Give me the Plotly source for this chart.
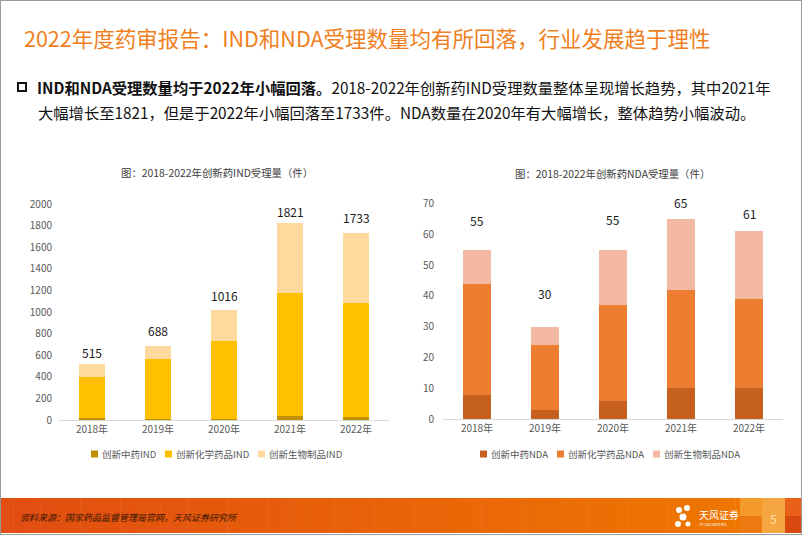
import plotly.graph_objects as go

# ---------------- data ----------------
years = ["2018年", "2019年", "2020年", "2021年", "2022年"]

ind_tcm = [22, 6, 6, 37, 31]
ind_chem = [375, 556, 725, 1136, 1049]
ind_bio = [118, 126, 285, 648, 653]
ind_total = [515, 688, 1016, 1821, 1733]

nda_tcm = [8, 3, 6, 10, 10]
nda_chem = [36, 21, 31, 32, 29]
nda_bio = [11, 6, 18, 23, 22]
nda_total = [55, 30, 55, 65, 61]

ind_names = ["创新中药IND", "创新化学药品IND", "创新生物制品IND"]
nda_names = ["创新中药NDA", "创新化学药品NDA", "创新生物制品NDA"]

ind_ticks = list(range(0, 2001, 200))
nda_ticks = list(range(0, 71, 10))

# ---------------- styles ----------------
W, H = 802, 535
FONT = "Noto Sans CJK SC"
ind_colors = ["#BF9000", "#FFC000", "#FFDA9E"]
nda_colors = ["#C5601E", "#ED7D31", "#F4B9A2"]
ind_label_shift = [12, 15, 15, 12, 15]   # px offset of total labels above bars
nda_label_shift = [29, 33, 30, 16, 18]
ind_leg_x = [91, 165, 258]     # legend swatch left edges (px)
nda_leg_x = [480, 557, 653]
LEG_Y = 454


def px(x):
    return x / W


def py(y):
    return 1 - y / H


fig = go.Figure()

for vals, name, col in zip([ind_tcm, ind_chem, ind_bio], ind_names, ind_colors):
    fig.add_trace(go.Bar(x=years, y=vals, name=name, marker_color=col,
                         marker_line_width=0, xaxis="x", yaxis="y",
                         showlegend=False, hoverinfo="skip"))
for vals, name, col in zip([nda_tcm, nda_chem, nda_bio], nda_names, nda_colors):
    fig.add_trace(go.Bar(x=years, y=vals, name=name, marker_color=col,
                         marker_line_width=0, xaxis="x2", yaxis="y2",
                         showlegend=False, hoverinfo="skip"))

annotations = []
shapes = []
for yr, t, s in zip(years, ind_total, ind_label_shift):
    annotations.append(dict(x=yr, y=t, xref="x", yref="y", text=str(t),
                            showarrow=False, yshift=s, yanchor="middle",
                            font=dict(family=FONT, size=12, color="#1a1a1a")))
for yr, t, s in zip(years, nda_total, nda_label_shift):
    annotations.append(dict(x=yr, y=t, xref="x2", yref="y2", text=str(t),
                            showarrow=False, yshift=s, yanchor="middle",
                            font=dict(family=FONT, size=12, color="#1a1a1a")))

# legends (swatch + label)
legfont = dict(family=FONT, size=9.5, color="#595959")
for names, cols, xs in [(ind_names, ind_colors, ind_leg_x), (nda_names, nda_colors, nda_leg_x)]:
    for name, col, x0 in zip(names, cols, xs):
        shapes.append(dict(type="rect", xref="paper", yref="paper",
                           x0=px(x0), x1=px(x0 + 7), y0=py(LEG_Y + 3.5), y1=py(LEG_Y - 3.5),
                           line_width=0, fillcolor=col))
        annotations.append(dict(x=px(x0 + 9), y=py(LEG_Y), xref="paper", yref="paper",
                                xanchor="left", yanchor="middle", text=name, showarrow=False,
                                font=legfont))

# headline & bullet text
annotations += [
    dict(x=px(22), y=py(38), xref="paper", yref="paper", xanchor="left", yanchor="middle",
         text="2022年度药审报告：IND和NDA受理数量均有所回落，行业发展趋于理性",
         showarrow=False, font=dict(family=FONT, size=21.5, color="#F07F22")),
    dict(x=px(35), y=py(87), xref="paper", yref="paper", xanchor="left", yanchor="middle",
         text="<b>IND和NDA受理数量均于2022年小幅回落。</b>2018-2022年创新药IND受理数量整体呈现增长趋势，其中2021年",
         showarrow=False, font=dict(family=FONT, size=15.3, color="#111111")),
    dict(x=px(36), y=py(112), xref="paper", yref="paper", xanchor="left", yanchor="middle",
         text="大幅增长至1821，但是于2022年小幅回落至1733件。NDA数量在2020年有大幅增长，整体趋势小幅波动。",
         showarrow=False, font=dict(family=FONT, size=15.3, color="#111111")),
    dict(x=px(217), y=py(172), xref="paper", yref="paper", xanchor="center", yanchor="middle",
         text="图：2018-2022年创新药IND受理量（件）",
         showarrow=False, font=dict(family=FONT, size=10.4, color="#404040")),
    dict(x=px(612), y=py(173), xref="paper", yref="paper", xanchor="center", yanchor="middle",
         text="图：2018-2022年创新药NDA受理量（件）",
         showarrow=False, font=dict(family=FONT, size=10.4, color="#404040")),
    dict(x=px(18), y=py(517), xref="paper", yref="paper", xanchor="left", yanchor="middle",
         text="<i>资料来源：国家药品监督管理局官网，天风证券研究所</i>",
         showarrow=False, font=dict(family=FONT, size=9, color="#3a1500")),
    dict(x=px(697), y=py(514), xref="paper", yref="paper", xanchor="left", yanchor="middle",
         text="天风证券", showarrow=False, font=dict(family=FONT, size=10, color="white")),
    dict(x=px(697), y=py(524), xref="paper", yref="paper", xanchor="left", yanchor="middle",
         text="TF SECURITIES", showarrow=False, font=dict(family=FONT, size=4, color="white")),
    dict(x=px(773), y=py(518), xref="paper", yref="paper", xanchor="center", yanchor="middle",
         text="5", showarrow=False, font=dict(family=FONT, size=12, color="#FFE0B0")),
]

# footer gradient band
n = 60
c0 = (0xE2, 0x4E, 0x12)
c1 = (0xF0, 0x7A, 0x00)
for i in range(n):
    t = i / (n - 1)
    c = tuple(int(c0[k] + (c1[k] - c0[k]) * t) for k in range(3))
    shapes.append(dict(type="rect", xref="paper", yref="paper",
                       x0=px(i * W / n), x1=px((i + 1) * W / n + 0.5),
                       y0=py(533), y1=py(498), line_width=0,
                       fillcolor="rgb(%d,%d,%d)" % c, layer="below"))
# mosaic squares at right of footer
for (x0, x1, y0, y1, col) in [
    (740, 762, 498, 516, "#F39A2A"), (762, 785, 498, 533, "#F5A640"),
    (785, 802, 498, 516, "#E8601A"), (740, 762, 516, 533, "#EE7A12"),
    (785, 802, 516, 533, "#D9480F")]:
    shapes.append(dict(type="rect", xref="paper", yref="paper",
                       x0=px(x0), x1=px(x1), y0=py(y1), y1=py(y0),
                       line_width=0, fillcolor=col, layer="below"))
# simple logo petals
for (cx, cy, r) in [(679, 510, 3), (687, 508, 3), (683, 517, 3.5), (678, 524, 3), (688, 524, 2.5)]:
    shapes.append(dict(type="circle", xref="paper", yref="paper",
                       x0=px(cx - r), x1=px(cx + r), y0=py(cy + r), y1=py(cy - r),
                       line_width=0, fillcolor="white"))
# bullet square
shapes.append(dict(type="rect", xref="paper", yref="paper",
                   x0=px(18), x1=px(26), y0=py(91), y1=py(83),
                   line=dict(color="#111111", width=2)))
# page border
shapes.append(dict(type="rect", xref="paper", yref="paper", x0=0, x1=1, y0=0, y1=1,
                   line=dict(color="#9a9a9a", width=2)))

tickfont = dict(family=FONT, size=10, color="#595959")

fig.update_layout(
    template="none",
    width=W, height=H, margin=dict(l=0, r=0, t=0, b=0, pad=0, autoexpand=False),
    paper_bgcolor="white", plot_bgcolor="white",
    barmode="stack", bargap=0.6,
    font=dict(family=FONT),
    xaxis=dict(domain=[px(59), px(389)], showline=True, linecolor="#D9D9D9", linewidth=1,
               ticks="", tickfont=tickfont, showgrid=False, zeroline=False, anchor="y",
               automargin=False),
    yaxis=dict(domain=[py(420), py(204)], range=[0, 2000], tickvals=ind_ticks,
               showgrid=False, zeroline=False, showline=False, ticks="", tickfont=tickfont,
               ticklabelstandoff=6, anchor="x", automargin=False),
    xaxis2=dict(domain=[px(443), px(783)], showline=True, linecolor="#D9D9D9", linewidth=1,
                ticks="", tickfont=tickfont, showgrid=False, zeroline=False, anchor="y2",
                automargin=False),
    yaxis2=dict(domain=[py(419.3), py(203.3)], range=[0, 70], tickvals=nda_ticks,
                showgrid=False, zeroline=False, showline=False, ticks="", tickfont=tickfont,
                ticklabelstandoff=8, anchor="x2", automargin=False),
    annotations=annotations, shapes=shapes, showlegend=False,
)

fig.write_html("out.html", config={"displayModeBar": False},
               post_script="document.body.style.margin='0px';document.body.style.overflow='hidden';")
